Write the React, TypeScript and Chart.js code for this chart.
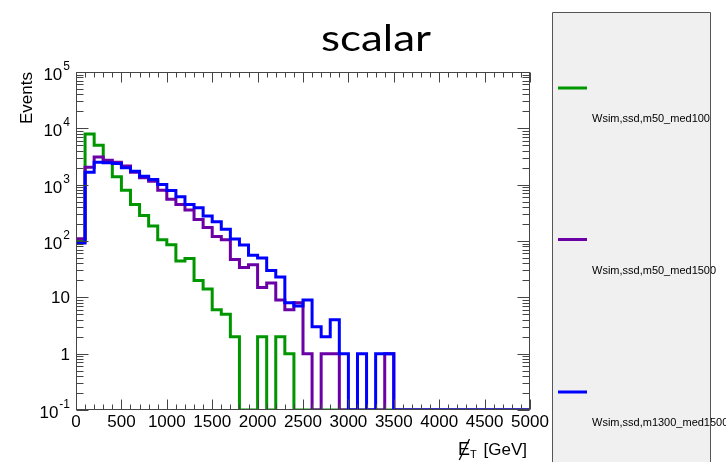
import React, { useEffect, useRef } from 'react';
import { Chart, registerables } from 'chart.js';

Chart.register(...registerables);

// ---- data (100 GeV bins, low edges) ----
const binLowEdges = [
  0, 100, 200, 300, 400, 500, 600, 700, 800, 900,
  1000, 1100, 1200, 1300, 1400, 1500, 1600, 1700, 1800, 1900,
  2000, 2100, 2200, 2300, 2400, 2500, 2600, 2700, 2800, 2900,
  3000, 3100, 3200, 3300, 3400, 3500, 3600, 3700, 3800, 3900,
  4000, 4100, 4200, 4300, 4400, 4500, 4600, 4700, 4800, 4900,
];
const xUpperEdge = 5000;

const greenValues = [
  100, 7900, 5000, 2500, 1380, 800, 445, 285, 184, 105,
  86, 44, 49, 20, 14, 6, 5, 2, 0, 0,
  2, 0, 2, 1, 0, 0, 0, 0, 0, 0,
  0, 0, 0, 0, 0, 0, 0, 0, 0, 0,
  0, 0, 0, 0, 0, 0, 0, 0, 0, 0,
];
const purpleValues = [
  110, 2040, 3100, 2700, 2500, 2140, 1660, 1320, 1150, 800,
  550, 445, 354, 242, 173, 120, 105, 47, 34, 38,
  15, 18, 9, 6, 8, 1, 0, 1, 1, 0,
  0, 0, 0, 0, 1, 0, 0, 0, 0, 0,
  0, 0, 0, 0, 0, 0, 0, 0, 0, 0,
];
const blueValues = [
  92, 1660, 2500, 2450, 2380, 2000, 1730, 1410, 1230, 1010,
  790, 610, 445, 390, 277, 220, 161, 108, 85, 56,
  50, 30, 23, 8, 7, 9, 3, 2, 4, 1,
  0, 1, 0, 1, 1, 0, 0, 0, 0, 0,
  0, 0, 0, 0, 0, 0, 0, 0, 0, 0,
];

const seriesLabels = ['Wsim,ssd,m50_med100', 'Wsim,ssd,m50_med1500', 'Wsim,ssd,m1300_med1500'];
const seriesColors = ['#009600', '#6a00a6', '#0000ff'];

const xTickValues = [0, 500, 1000, 1500, 2000, 2500, 3000, 3500, 4000, 4500, 5000];
const xTickLabels = ['0', '500', '1000', '1500', '2000', '2500', '3000', '3500', '4000', '4500', '5000'];
const yTickValues = [0.1, 1, 10, 100, 1000, 10000, 100000];
const yTickBases = ['10', '1', '10', '10', '10', '10', '10'];
const yTickExps = ['-1', '', '', '2', '3', '4', '5'];

const titleText = 'scalar';
const yAxisTitle = 'Events';
const xAxisTitleMain = 'E';
const xAxisTitleSub = 'T';
const xAxisTitleUnit = ' [GeV]';

const yMin = 0.1;
const yMax = 100000;

function toSteps(values: number[]) {
  const pts = binLowEdges.map((x, i) => ({ x, y: values[i] > 0 ? values[i] : yMin }));
  const last = values[values.length - 1];
  pts.push({ x: xUpperEdge, y: last > 0 ? last : yMin });
  return pts;
}

const SANS = '"Liberation Sans", Arial, sans-serif';

const decorPlugin = {
  id: 'rootDecor',
  afterDraw(chart: any) {
    const { ctx, chartArea: a, scales } = chart;
    const xs = scales.x;
    const ys = scales.y;
    ctx.save();

    // frame
    const L = a.left + 0.5, R = a.right - 0.5, T = a.top + 0.5, B = a.bottom - 0.5;
    ctx.strokeStyle = '#444';
    ctx.lineWidth = 1;
    ctx.strokeRect(L, T, R - L, B - T);

    // x ticks (bottom & top)
    ctx.beginPath();
    for (let v = 0; v <= xUpperEdge; v += 100) {
      const px = Math.round(xs.getPixelForValue(v)) + 0.5;
      const len = v % 500 === 0 ? 10 : 5;
      ctx.moveTo(px, B); ctx.lineTo(px, B - len);
      ctx.moveTo(px, T); ctx.lineTo(px, T + len);
    }
    // y ticks (left & right)
    for (let e = -1; e <= 5; e++) {
      const base = Math.pow(10, e);
      const py = Math.round(ys.getPixelForValue(base)) + 0.5;
      ctx.moveTo(L, py); ctx.lineTo(L + 12, py);
      ctx.moveTo(R, py); ctx.lineTo(R - 12, py);
      if (e < 5) {
        for (let m = 2; m <= 9; m++) {
          const pm = Math.round(ys.getPixelForValue(m * base)) + 0.5;
          ctx.moveTo(L, pm); ctx.lineTo(L + 7, pm);
          ctx.moveTo(R, pm); ctx.lineTo(R - 7, pm);
        }
      }
    }
    ctx.stroke();

    ctx.fillStyle = '#000';
    // x tick labels
    ctx.font = `17px ${SANS}`;
    ctx.textAlign = 'center';
    ctx.textBaseline = 'alphabetic';
    xTickValues.forEach((v, i) => {
      ctx.fillText(xTickLabels[i], xs.getPixelForValue(v), 427);
    });

    // y tick labels
    const labelRight = 70;
    yTickValues.forEach((v, i) => {
      const py = ys.getPixelForValue(v);
      const exp = yTickExps[i];
      if (exp) {
        ctx.font = `12px ${SANS}`;
        ctx.textAlign = 'right';
        const ew = ctx.measureText(exp).width;
        ctx.fillText(exp, labelRight, py - 2);
        ctx.font = `17px ${SANS}`;
        ctx.fillText(yTickBases[i], labelRight - ew - 1, py + 8);
      } else {
        ctx.font = `17px ${SANS}`;
        ctx.textAlign = 'right';
        ctx.fillText(yTickBases[i], labelRight, py + 6);
      }
    });

    // y axis title
    ctx.save();
    ctx.translate(32, a.top);
    ctx.rotate(-Math.PI / 2);
    ctx.font = `17px ${SANS}`;
    ctx.textAlign = 'right';
    ctx.fillText(yAxisTitle, 0, 0);
    ctx.restore();

    // x axis title: slashed E_T [GeV]
    ctx.textAlign = 'left';
    ctx.font = `18px ${SANS}`;
    const wE = ctx.measureText(xAxisTitleMain).width;
    ctx.font = `17px ${SANS}`;
    const wU = ctx.measureText(xAxisTitleUnit).width;
    ctx.font = `11px ${SANS}`;
    const wT = ctx.measureText(xAxisTitleSub).width;
    const baseY = 455;
    const endX = 527;
    const gap = 2;
    const sx = endX - (wE + wT + gap + wU);
    ctx.font = `18px ${SANS}`;
    ctx.fillText(xAxisTitleMain, sx, baseY);
    ctx.beginPath();
    ctx.lineWidth = 1.3;
    ctx.strokeStyle = '#000';
    ctx.moveTo(sx + wE * 0.95, baseY - 16);
    ctx.lineTo(sx + wE * 0.1, baseY + 5);
    ctx.stroke();
    ctx.font = `11px ${SANS}`;
    ctx.fillText(xAxisTitleSub, sx + wE, baseY + 3);
    ctx.font = `17px ${SANS}`;
    ctx.fillText(xAxisTitleUnit, sx + wE + wT + gap, baseY);

    // title (wide, slide-style font)
    ctx.save();
    ctx.translate(376, 51);
    ctx.scale(1.22, 1);
    ctx.font = '36px Lato, "Open Sans", sans-serif';
    ctx.textAlign = 'center';
    ctx.fillText(titleText, 0, 0);
    ctx.restore();

    // legend panel
    const boxL = 552.5, boxT = 12.5, boxR = 710.5;
    ctx.fillStyle = '#f0f0f0';
    ctx.fillRect(boxL, boxT, boxR - boxL, 462 - boxT + 5);
    const entryY = [88, 239.5, 392];
    chart.data.datasets.forEach((ds: any, i: number) => {
      const y = entryY[i];
      ctx.beginPath();
      ctx.strokeStyle = ds.borderColor;
      ctx.lineWidth = 3;
      ctx.moveTo(558, y);
      ctx.lineTo(587, y);
      ctx.stroke();
      ctx.fillStyle = '#000';
      ctx.font = `11px ${SANS}`;
      ctx.textAlign = 'left';
      ctx.fillText(ds.label, 592, y + 34);
    });
    ctx.strokeStyle = '#555';
    ctx.lineWidth = 1;
    ctx.beginPath();
    ctx.moveTo(boxL, 470);
    ctx.lineTo(boxL, boxT);
    ctx.lineTo(boxR, boxT);
    ctx.lineTo(boxR, 470);
    ctx.stroke();

    ctx.restore();
  },
};

export default function App() {
  const ref = useRef<HTMLCanvasElement | null>(null);

  useEffect(() => {
    document.body.style.margin = '0';
    const canvas = ref.current;
    if (!canvas) return;
    const valueSets = [greenValues, purpleValues, blueValues];
    const chart = new Chart(canvas, {
      type: 'line',
      data: {
        datasets: valueSets.map((vals, i) => ({
          label: seriesLabels[i],
          data: toSteps(vals),
          borderColor: seriesColors[i],
          backgroundColor: seriesColors[i],
          borderWidth: 3,
          pointRadius: 0,
          stepped: true,
          fill: false,
          order: 3 - i,
        })),
      },
      options: {
        responsive: false,
        maintainAspectRatio: false,
        animation: false,
        devicePixelRatio: 1,
        layout: { padding: { left: 76, top: 72, right: 196, bottom: 52 } },
        plugins: {
          legend: { display: false },
          tooltip: { enabled: false },
          title: { display: false },
        },
        scales: {
          x: { type: 'linear', min: 0, max: xUpperEdge, display: false },
          y: { type: 'logarithmic', min: yMin, max: yMax, display: false },
        },
      },
      plugins: [decorPlugin],
    } as any);
    return () => chart.destroy();
  }, []);

  return (
    <div style={{ position: 'absolute', left: 0, top: 0, width: 726, height: 462, background: '#fff' }}>
      <canvas ref={ref} width={726} height={462} style={{ display: 'block' }} />
    </div>
  );
}
